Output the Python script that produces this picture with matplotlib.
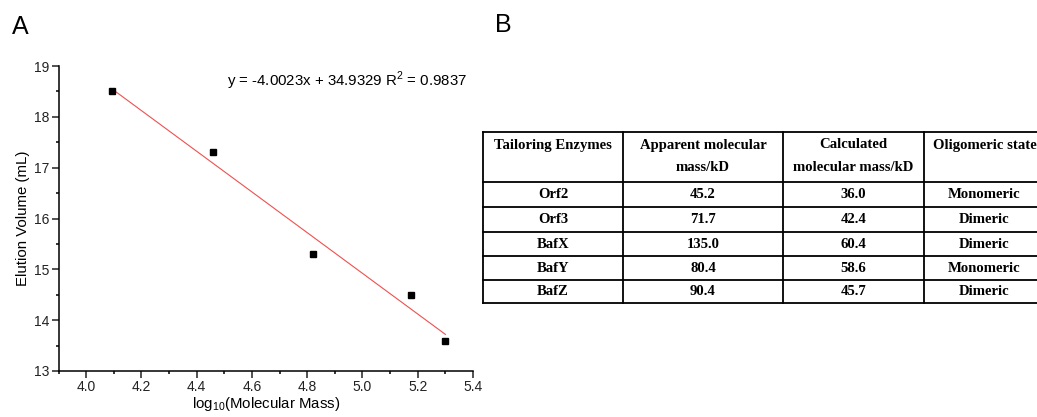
import matplotlib
matplotlib.use("Agg")
import matplotlib.pyplot as plt
from matplotlib.ticker import MultipleLocator
import numpy as np

# ---- data ----
log_mass = [4.095, 4.46, 4.82, 5.175, 5.30]
elution_volume = [18.5, 17.3, 15.3, 14.5, 13.6]
slope = -4.0023
intercept = 34.9329
r2 = 0.9837
x_ticks = [4.0, 4.2, 4.4, 4.6, 4.8, 5.0, 5.2, 5.4]
y_ticks = [13, 14, 15, 16, 17, 18, 19]

table_header = ["Tailoring Enzymes", "Apparent molecular\nmass/kD",
                "Calculated\nmolecular mass/kD", "Oligomeric state"]
enzymes = ["Orf2", "Orf3", "BafX", "BafY", "BafZ"]
apparent_mass = ["45.2", "71.7", "135.0", "80.4", "90.4"]
calculated_mass = ["36.0", "42.4", "60.4", "58.6", "45.7"]
oligomeric_state = ["Monomeric", "Dimeric", "Dimeric", "Monomeric", "Dimeric"]

plt.rcParams["font.family"] = ["Liberation Sans", "DejaVu Sans"]
plt.rcParams["mathtext.fontset"] = "custom"
plt.rcParams["mathtext.rm"] = "Liberation Sans"

W, H = 1037, 417
fig = plt.figure(figsize=(W / 100, H / 100), dpi=100)

# ---- panel A ----
ax = fig.add_axes([58.5 / W, 1 - 371 / H, (473 - 58.5) / W, (371 - 66) / H])
ax.plot(log_mass, elution_volume, linestyle="none", marker="s", ms=5,
        color="black", zorder=3)
xf = np.array([min(log_mass), max(log_mass)])
ax.plot(xf, slope * xf + intercept, color="#f05050", lw=0.8, zorder=2)
ax.set_xlim(3.9, 5.4)
ax.set_ylim(13, 19)
ax.set_xticks(x_ticks)
ax.set_xticklabels([f"{v:.1f}" for v in x_ticks])
ax.set_yticks(y_ticks)
ax.xaxis.set_minor_locator(MultipleLocator(0.1))
ax.yaxis.set_minor_locator(MultipleLocator(0.5))
for s in ["top", "right"]:
    ax.spines[s].set_visible(False)
for s in ["left", "bottom"]:
    ax.spines[s].set_linewidth(1.1)
ax.tick_params(which="major", direction="out", length=5, width=1.1,
               labelsize=10, colors="#222222", pad=1.5)
ax.tick_params(which="minor", direction="out", length=2.5, width=1.1)
ax.set_xlabel("log$_{10}$(Molecular Mass)", fontsize=10.8, labelpad=1)
ax.set_ylabel("Elution Volume (mL)", fontsize=10.8, labelpad=3)
ax.text(0.985, 0.95,
        f"y = {slope:.4f}x + {intercept:.4f} R$^2$ = {r2:.4f}",
        transform=ax.transAxes, ha="right", va="center", fontsize=10.8)

# ---- panel labels ----
fig.text(12 / W, 1 - 27 / H, "A", fontsize=18, va="center", ha="left")
fig.text(495 / W, 1 - 25 / H, "B", fontsize=18, va="center", ha="left")

# ---- panel B (table) ----
tax = fig.add_axes([0, 0, 1, 1])
tax.set_xlim(0, W)
tax.set_ylim(H, 0)
tax.axis("off")
col_edges = [483, 623, 783, 924, 1050]
row_edges = [132, 182, 207, 232, 256, 280, 303]
for x in col_edges:
    tax.plot([x, x], [row_edges[0], row_edges[-1]], color="black", lw=1.3,
             solid_capstyle="projecting")
for y in row_edges:
    tax.plot([col_edges[0], col_edges[-1]], [y, y], color="black", lw=1.3,
             solid_capstyle="projecting")
font = dict(family=["Liberation Serif", "DejaVu Serif"], fontweight="bold",
            fontsize=10.6)
col_centers = [(col_edges[j] + col_edges[j + 1]) / 2 for j in range(3)] + [984]
for j, txt in enumerate(table_header):
    cx = col_centers[j]
    lines = txt.split("\n")
    for k, line in enumerate(lines):
        tax.text(cx if j < 3 else 933, 145 + 22 * k, line,
                 ha="center" if j < 3 else "left", va="center", **font)
columns = [enzymes, apparent_mass, calculated_mass, oligomeric_state]
for j, col in enumerate(columns):
    cx = col_centers[j]
    for i, txt in enumerate(col):
        cy = (row_edges[i + 1] + row_edges[i + 2]) / 2
        tax.text(cx, cy, txt, ha="center", va="center", **font)

fig.savefig("out.png", dpi=100)
